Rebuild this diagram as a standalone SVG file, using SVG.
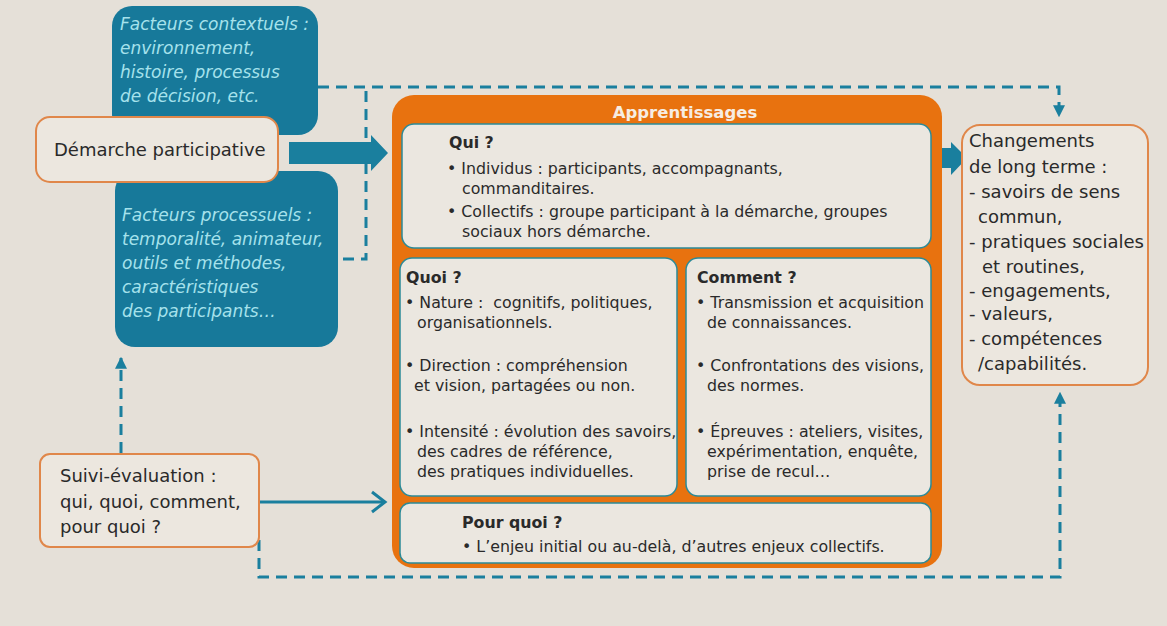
<svg xmlns="http://www.w3.org/2000/svg" width="1167" height="626" viewBox="0 0 1167 626">
<defs>
<style>
.t{font-family:"DejaVu Sans","Liberation Sans",Arial,sans-serif;fill:#2a2a2a}
.s{font-size:15.8px}
.m{font-size:18px}
.b{font-weight:bold}
.f{font-family:"DejaVu Sans","Liberation Sans",Arial,sans-serif;font-style:italic;fill:#a6e2ec;font-size:17px}
.teal{fill:#17799a}
.obox{fill:#ece7df;stroke:#e0874a;stroke-width:2}
.ibox{fill:#ebe7e0;stroke:#2b8a98;stroke-width:1.5}
.dash{fill:none;stroke:#1a7f9e;stroke-width:3;stroke-dasharray:11,7}
</style>
<marker id="ah" viewBox="0 0 10 10" refX="9" refY="5" markerWidth="4" markerHeight="4" orient="auto-start-reverse">
<path d="M0,0 L10,5 L0,10 z" fill="#1a7f9e"/>
</marker>
</defs>
<rect x="0" y="0" width="1167" height="626" fill="#e5e0d8"/>

<g id="connectors">
<path class="dash" d="M318,87 H1059 V116" marker-end="url(#ah)"/>
<path class="dash" d="M343,259 H366 V89"/>
<path class="dash" d="M121,453 V358" marker-end="url(#ah)"/>
<path class="dash" d="M259,540 V577 H1060 V393" marker-end="url(#ah)"/>
<path d="M259,502 H383" fill="none" stroke="#1a7f9e" stroke-width="3"/>
<path d="M372,492 L385,502 L372,512" fill="none" stroke="#1a7f9e" stroke-width="3"/>
<path d="M289,142 H371 V135 L388,153 L371,171 V164 H289 z" fill="#1a7f9e"/>
<path d="M933,148 H951 V142 L967,158 L951,175 V168 H933 z" fill="#1a7f9e"/>
</g>

<g id="contextuels">
<rect x="112" y="6" width="206" height="129" rx="20" class="teal"/>
<text class="f" x="120" y="30">Facteurs contextuels :</text>
<text class="f" x="120" y="54">environnement,</text>
<text class="f" x="120" y="78">histoire, processus</text>
<text class="f" x="120" y="102">de décision, etc.</text>
</g>

<g id="processuels">
<rect x="115" y="171" width="223" height="176" rx="20" class="teal"/>
<text class="f" x="122" y="221">Facteurs processuels :</text>
<text class="f" x="122" y="245">temporalité, animateur,</text>
<text class="f" x="122" y="269">outils et méthodes,</text>
<text class="f" x="122" y="293">caractéristiques</text>
<text class="f" x="122" y="317">des participants…</text>
</g>

<g id="demarche">
<rect x="36" y="117" width="242" height="65" rx="14" class="obox"/>
<text class="t m" x="54" y="156">Démarche participative</text>
</g>

<g id="suivi">
<rect x="40" y="454" width="219" height="93" rx="10" class="obox"/>
<text class="t m" x="60" y="482">Suivi-évaluation :</text>
<text class="t m" x="60" y="508">qui, quoi, comment,</text>
<text class="t m" x="60" y="533">pour quoi ?</text>
</g>

<g id="apprentissages">
<rect x="392" y="95" width="550" height="473" rx="22" fill="#e8720f"/>
<text class="t b" x="685" y="118" font-size="16.5" text-anchor="middle" style="fill:#f6ece2">Apprentissages</text>
</g>

<g id="qui">
<rect x="402" y="124" width="529" height="124" rx="12" class="ibox"/>
<text class="t s b" x="449" y="148">Qui ?</text>
<text class="t s" x="447" y="174">• Individus : participants, accompagnants,</text>
<text class="t s" x="462" y="194">commanditaires.</text>
<text class="t s" x="447" y="217">• Collectifs : groupe participant à la démarche, groupes</text>
<text class="t s" x="462" y="237">sociaux hors démarche.</text>
</g>

<g id="quoi">
<rect x="400" y="258" width="277" height="238" rx="12" class="ibox"/>
<text class="t s b" x="406" y="283">Quoi ?</text>
<text class="t s" x="405" y="308" xml:space="preserve">• Nature :  cognitifs, politiques,</text>
<text class="t s" x="417" y="328">organisationnels.</text>
<text class="t s" x="405" y="371">• Direction : compréhension</text>
<text class="t s" x="414" y="391">et vision, partagées ou non.</text>
<text class="t s" x="405" y="437">• Intensité : évolution des savoirs,</text>
<text class="t s" x="417" y="457">des cadres de référence,</text>
<text class="t s" x="417" y="477">des pratiques individuelles.</text>
</g>

<g id="comment">
<rect x="686" y="258" width="245" height="238" rx="12" class="ibox"/>
<text class="t s b" x="697" y="283">Comment ?</text>
<text class="t s" x="696" y="308">• Transmission et acquisition</text>
<text class="t s" x="707" y="328">de connaissances.</text>
<text class="t s" x="696" y="371">• Confrontations des visions,</text>
<text class="t s" x="707" y="391">des normes.</text>
<text class="t s" x="696" y="437">• Épreuves : ateliers, visites,</text>
<text class="t s" x="707" y="457">expérimentation, enquête,</text>
<text class="t s" x="707" y="477">prise de recul…</text>
</g>

<g id="pourquoi">
<rect x="400" y="503" width="531" height="60" rx="10" class="ibox"/>
<text class="t s b" x="462" y="528">Pour quoi ?</text>
<text class="t s" x="462" y="552">• L’enjeu initial ou au-delà, d’autres enjeux collectifs.</text>
</g>

<g id="changements">
<rect x="962" y="125" width="186" height="260" rx="18" class="obox"/>
<text class="t m" x="969" y="147">Changements</text>
<text class="t m" x="969" y="173">de long terme :</text>
<text class="t m" x="969" y="198">- savoirs de sens</text>
<text class="t m" x="978" y="223">commun,</text>
<text class="t m" x="969" y="248">- pratiques sociales</text>
<text class="t m" x="982" y="273">et routines,</text>
<text class="t m" x="969" y="297">- engagements,</text>
<text class="t m" x="969" y="320">- valeurs,</text>
<text class="t m" x="969" y="345">- compétences</text>
<text class="t m" x="978" y="370">/capabilités.</text>
</g>
</svg>
